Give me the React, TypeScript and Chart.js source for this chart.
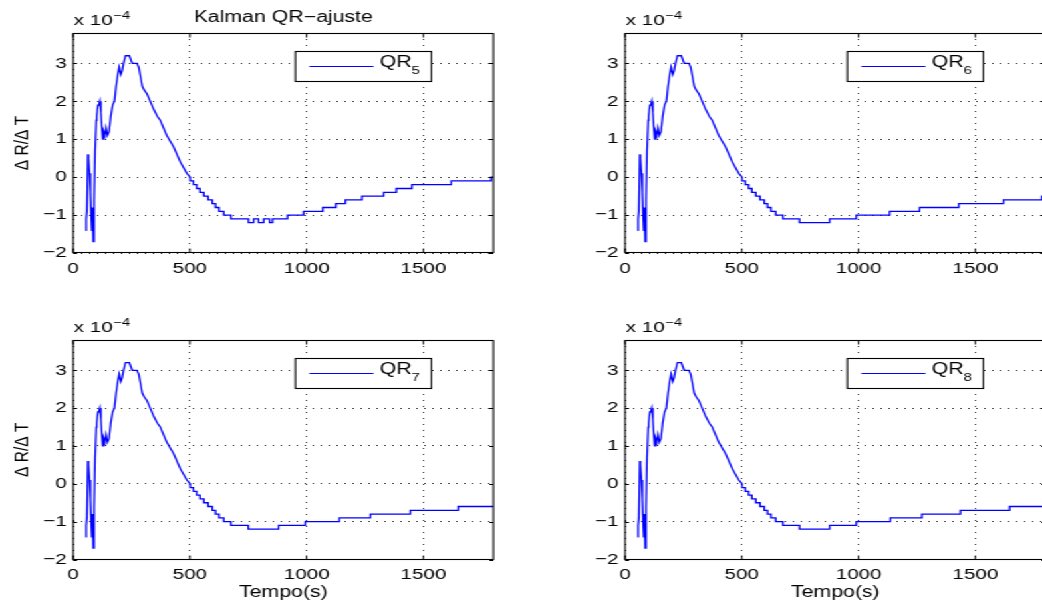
import React, { useEffect, useRef } from 'react';
import { Chart, registerables } from 'chart.js';

Chart.register(...registerables);

// ---- data (time in s, ΔR/ΔT in units of 1e-4) ----
const xTicks = [0, 500, 1000, 1500];
const yTicks = [-2, -1, 0, 1, 2, 3];
const X_MIN = 0;
const X_MAX = 1800;
const Y_MIN = -2;
const Y_MAX = 3.8;

// common initial transient and rise/fall
const earlyTimes = [53, 56, 59, 63, 66, 70, 74, 77, 80, 83, 86, 90, 94, 99, 101, 106, 110, 114, 119, 123, 127, 131, 136, 141, 147, 154, 161, 169, 177, 184, 191, 197, 204, 210, 216, 224, 241, 253, 273, 281, 287, 296, 304, 316, 330, 344, 361, 373, 401, 430, 459, 487, 501];
const earlyValues = [-1.4, -1.1, -0.9, 0.6, 0.5, 0.1, -0.4, -1.0, -1.4, -0.8, -1.7, -0.6, 0.7, 1.5, 1.6, 1.9, 1.9, 2.0, 1.7, 1.3, 1.0, 1.2, 1.1, 1.3, 1.1, 1.2, 1.6, 1.9, 2.0, 2.4, 2.7, 2.9, 2.7, 2.8, 3.0, 3.2, 3.2, 3.0, 3.0, 2.9, 2.7, 2.4, 2.3, 2.2, 2.0, 1.8, 1.6, 1.5, 1.1, 0.8, 0.4, 0.1, 0.0];

// common staircase below zero
const descentTimes = [501, 515, 529, 543, 560, 578, 596, 610, 625, 645, 676];
const descentLevels = [-0.1, -0.2, -0.3, -0.4, -0.5, -0.6, -0.7, -0.8, -0.9, -1.0, -1.1];

// tails of each series (step times and new levels)
const qr5Times = [751, 773, 794, 816, 841, 854, 918, 987, 1069, 1126, 1166, 1237, 1330, 1384, 1451, 1619, 1790];
const qr5Levels = [-1.2, -1.1, -1.2, -1.1, -1.2, -1.1, -1.0, -0.9, -0.8, -0.7, -0.6, -0.5, -0.4, -0.3, -0.2, -0.1, 0.0];
const qr6Times = [747, 876, 990, 1133, 1261, 1429, 1621, 1785];
const qr6Levels = [-1.2, -1.1, -1.0, -0.9, -0.8, -0.7, -0.6, -0.5];
const qr7Times = [750, 880, 994, 1140, 1273, 1444, 1649];
const qr7Levels = [-1.2, -1.1, -1.0, -0.9, -0.8, -0.7, -0.6];
const qr8Times = [747, 876, 990, 1136, 1271, 1436, 1647];
const qr8Levels = [-1.2, -1.1, -1.0, -0.9, -0.8, -0.7, -0.6];

const titleText = 'Kalman QR\u2212ajuste';
const yLabelText = '\u0394 R/\u0394 T';
const xLabelText = 'Tempo(s)';
const legendBase = 'QR';

// ---- layout ----
const S = 1.33; // horizontal stretch of the reference
const FONT = '"Liberation Sans", Arial, Helvetica, sans-serif';

type Panel = {
  sub: string; times: number[]; levels: number[];
  left: number; top: number; w: number; h: number;
  axisW: number; padR: number; padT: number; axisH: number;
  title: boolean; yLabel: boolean; xLabel: boolean;
};

const panels: Panel[] = [
  { sub: '5', times: qr5Times, levels: qr5Levels, left: 0, top: 0, w: 392, h: 300, axisW: 55, padR: 21, padT: 33, axisH: 47, title: true, yLabel: true, xLabel: false },
  { sub: '6', times: qr6Times, levels: qr6Levels, left: 392, top: 0, w: 400, h: 300, axisW: 78, padR: 6, padT: 33, axisH: 47, title: false, yLabel: false, xLabel: false },
  { sub: '7', times: qr7Times, levels: qr7Levels, left: 0, top: 300, w: 392, h: 305, axisW: 55, padR: 21, padT: 40, axisH: 45.5, title: false, yLabel: true, xLabel: true },
  { sub: '8', times: qr8Times, levels: qr8Levels, left: 392, top: 300, w: 400, h: 305, axisW: 78, padR: 6, padT: 40, axisH: 45.5, title: false, yLabel: false, xLabel: true },
];

function buildSeries(times: number[], levels: number[]) {
  const pts: { x: number; y: number }[] = earlyTimes.map((t, i) => ({ x: t, y: earlyValues[i] }));
  let prev = earlyValues[earlyValues.length - 1];
  const addSteps = (ts: number[], ls: number[]) => {
    ts.forEach((t, i) => {
      pts.push({ x: t, y: prev });
      pts.push({ x: t, y: ls[i] });
      prev = ls[i];
    });
  };
  addSteps(descentTimes, descentLevels);
  addSteps(times, levels);
  pts.push({ x: X_MAX, y: prev });
  return pts;
}

const fmt = (v: number) => (v < 0 ? '\u2212' + Math.abs(v) : String(v));

function makeConfig(p: Panel): any {
  const data = buildSeries(p.times, p.levels);
  const decor = {
    id: 'decor' + p.sub,
    afterDraw(chart: any) {
      const ctx = chart.ctx as CanvasRenderingContext2D;
      const ca = chart.chartArea;
      const xs = chart.scales.x;
      const ys = chart.scales.y;
      const top = Math.round(ca.top) + 0.5;
      const bottom = Math.round(ca.bottom) - 0.5;
      ctx.save();
      ctx.strokeStyle = '#000';
      ctx.lineWidth = 1.1;
      ctx.strokeRect(ca.left, top, ca.right - ca.left, bottom - top);
      // inward tick marks
      ctx.lineWidth = 1;
      ctx.beginPath();
      xTicks.forEach((v) => {
        const px = xs.getPixelForValue(v);
        ctx.moveTo(px, bottom); ctx.lineTo(px, bottom - 4);
        ctx.moveTo(px, top); ctx.lineTo(px, top + 4);
      });
      yTicks.forEach((v) => {
        const py = Math.round(ys.getPixelForValue(v)) + 0.5;
        ctx.moveTo(ca.left, py); ctx.lineTo(ca.left + 3, py);
        ctx.moveTo(ca.right, py); ctx.lineTo(ca.right - 3, py);
      });
      ctx.stroke();

      ctx.fillStyle = '#000';
      ctx.textBaseline = 'alphabetic';
      // exponent label
      ctx.textAlign = 'left';
      ctx.font = `15.5px ${FONT}`;
      ctx.fillText('x 10', ca.left + 0.5, ca.top - 8);
      const w10 = ctx.measureText('x 10').width;
      ctx.font = `11px ${FONT}`;
      ctx.fillText('\u22124', ca.left + 1 + w10, ca.top - 14);

      if (p.title) {
        ctx.font = `16px ${FONT}`;
        ctx.textAlign = 'center';
        ctx.fillText(titleText, (ca.left + ca.right) / 2, 22);
      }
      if (p.xLabel) {
        ctx.font = `16px ${FONT}`;
        ctx.textAlign = 'center';
        ctx.fillText(xLabelText, (ca.left + ca.right) / 2, 297);
      }
      if (p.yLabel) {
        ctx.save();
        ctx.translate(17, (ca.top + ca.bottom) / 2);
        ctx.rotate(-Math.PI / 2);
        ctx.font = `15.5px ${FONT}`;
        ctx.textAlign = 'center';
        ctx.textBaseline = 'middle';
        ctx.fillText(yLabelText, 0, 0);
        ctx.restore();
      }
      // legend
      const bw = 102.3;
      const bh = 30;
      const bx = ca.right - 46.6 - bw;
      const by = Math.round(ca.top + 18) + 0.5;
      ctx.fillStyle = '#fff';
      ctx.fillRect(bx, by, bw, bh);
      ctx.strokeStyle = '#000';
      ctx.lineWidth = 1.1;
      ctx.strokeRect(bx, by, bw, bh);
      ctx.strokeStyle = '#0000ff';
      ctx.lineWidth = 1;
      ctx.beginPath();
      ctx.moveTo(bx + 10.5, by + 15);
      ctx.lineTo(bx + 58.7, by + 15);
      ctx.stroke();
      ctx.fillStyle = '#000';
      ctx.textAlign = 'left';
      ctx.font = `16px ${FONT}`;
      ctx.fillText(legendBase, bx + 63.5, by + 15.7);
      const wq = ctx.measureText(legendBase).width;
      ctx.font = `11px ${FONT}`;
      ctx.fillText(p.sub, bx + 63.5 + wq, by + 22.5);
      ctx.restore();
    },
  };

  const tickFont = { family: FONT, size: 15.5 };
  return {
    type: 'line',
    data: {
      datasets: [{
        label: legendBase + p.sub,
        data,
        borderColor: '#0000ff',
        borderWidth: 1.3,
        pointRadius: 0,
        fill: false,
        tension: 0,
      }],
    },
    options: {
      animation: false,
      responsive: false,
      devicePixelRatio: 1,
      events: [],
      layout: { autoPadding: false, padding: { top: p.padT, right: p.padR, left: 0, bottom: 0 } },
      plugins: { legend: { display: false }, tooltip: { enabled: false }, title: { display: false } },
      scales: {
        x: {
          type: 'linear',
          min: X_MIN,
          max: X_MAX,
          afterBuildTicks: (s: any) => { s.ticks = xTicks.map((v) => ({ value: v })); },
          afterFit: (s: any) => { s.height = p.axisH; },
          grid: { color: '#222', lineWidth: 1, drawTicks: false },
          border: { display: false, dash: [1, 5] },
          ticks: { font: tickFont, color: '#000', padding: 6, maxRotation: 0, autoSkip: false, callback: (v: any) => fmt(Number(v)) },
        },
        y: {
          type: 'linear',
          min: Y_MIN,
          max: Y_MAX,
          afterBuildTicks: (s: any) => { s.ticks = yTicks.map((v) => ({ value: v })); },
          afterFit: (s: any) => { s.width = p.axisW; },
          grid: { color: '#222', lineWidth: 1, drawTicks: false },
          border: { display: false, dash: [1, 5] },
          ticks: { font: tickFont, color: '#000', padding: 5, autoSkip: false, callback: (v: any) => fmt(Number(v)) },
        },
      },
    },
    plugins: [decor],
  };
}

export default function App() {
  const refs = useRef<(HTMLCanvasElement | null)[]>([]);
  useEffect(() => {
    const charts = panels.map((p, i) => new Chart(refs.current[i] as HTMLCanvasElement, makeConfig(p)));
    return () => charts.forEach((c) => c.destroy());
  }, []);
  return (
    <div style={{ position: 'absolute', left: 0, top: 0, width: 1042, height: 605, overflow: 'hidden', background: '#fff' }}>
      <div style={{ position: 'absolute', left: 0, top: 0, width: 792, height: 605, transform: `scaleX(${S})`, transformOrigin: '0 0' }}>
        {panels.map((p, i) => (
          <canvas
            key={i}
            ref={(el) => { refs.current[i] = el; }}
            width={p.w}
            height={p.h}
            style={{ position: 'absolute', left: p.left, top: p.top, width: p.w, height: p.h }}
          />
        ))}
      </div>
    </div>
  );
}
